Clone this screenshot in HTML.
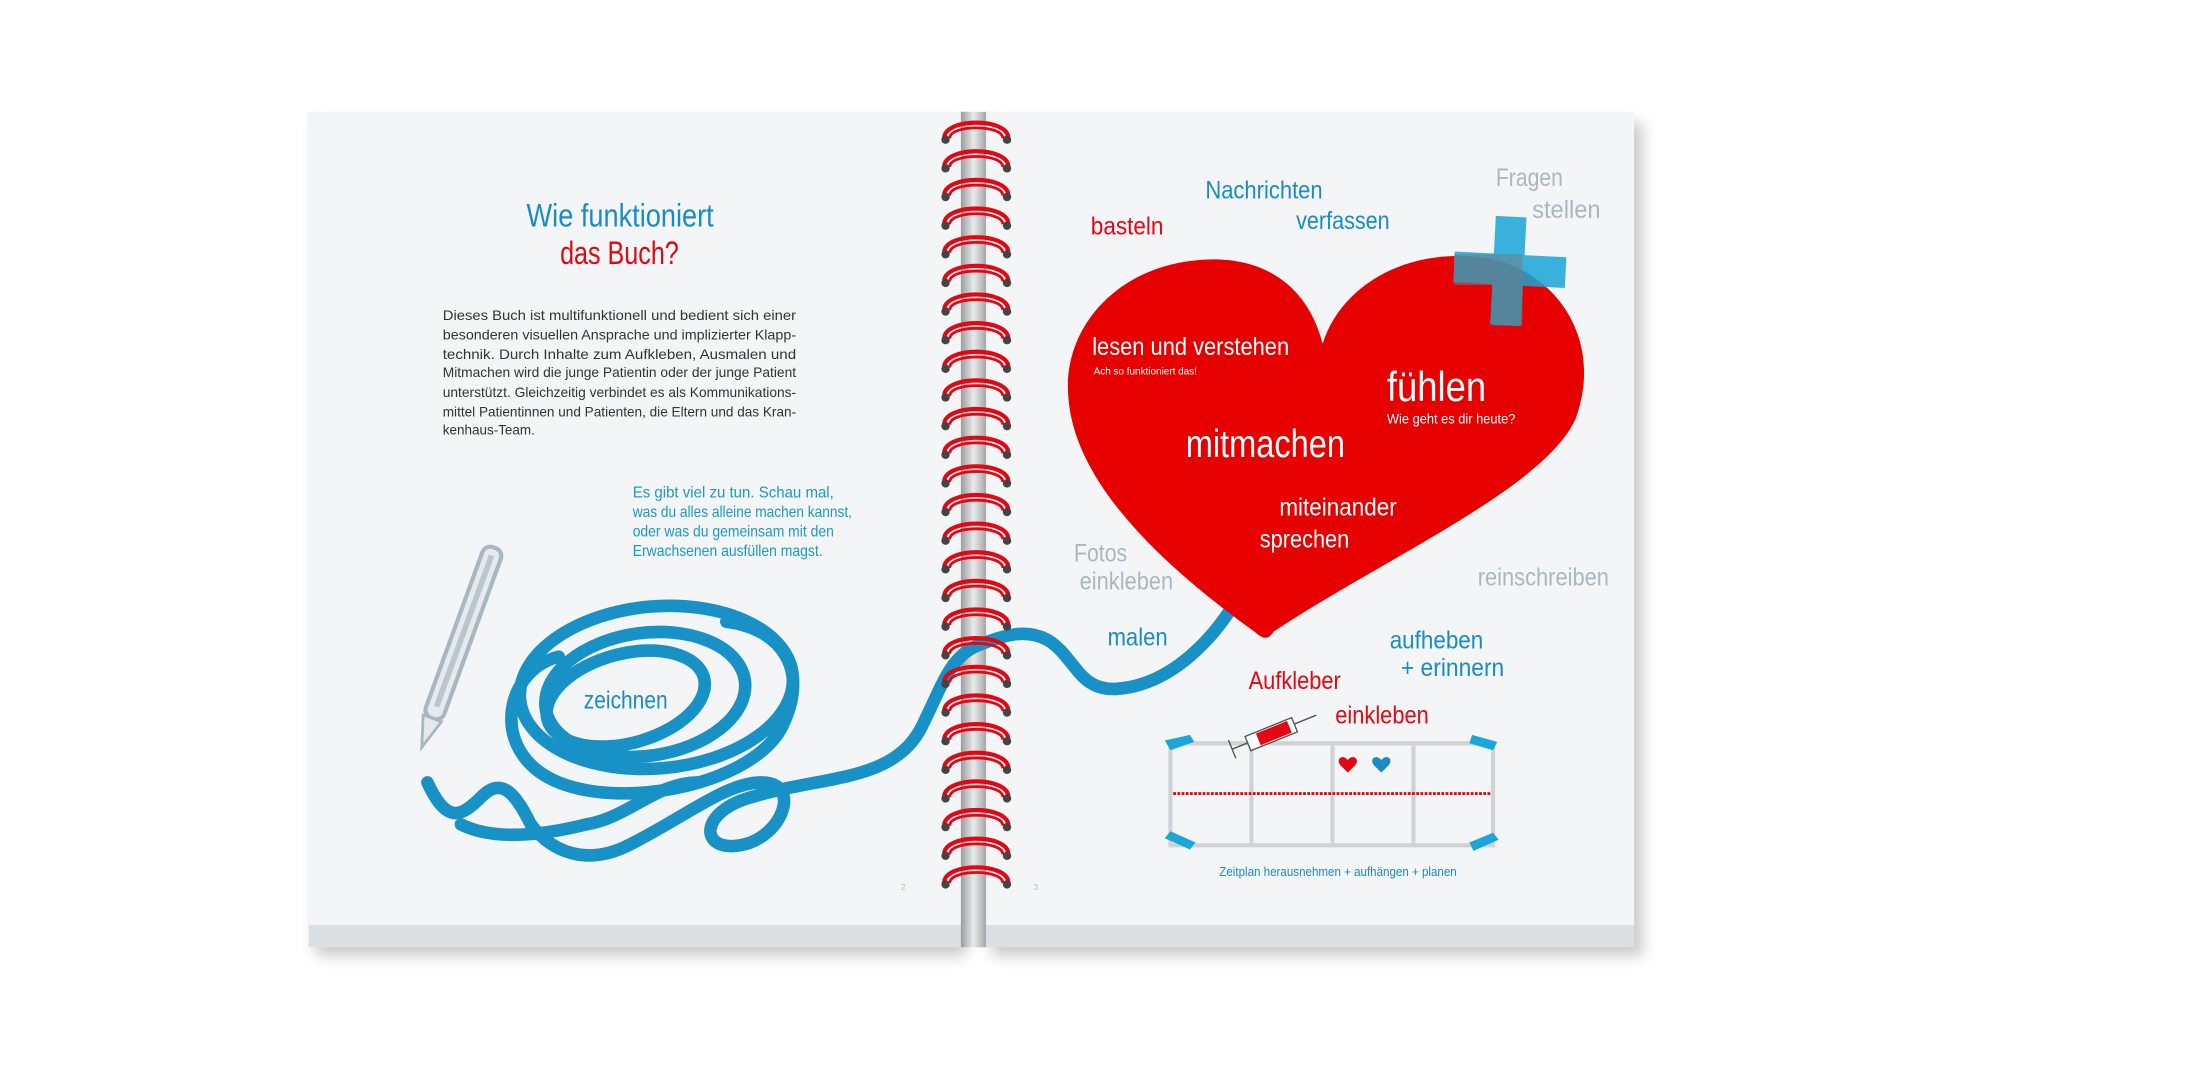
<!DOCTYPE html>
<html><head><meta charset="utf-8">
<style>
html,body{margin:0;padding:0;background:#fff;width:2190px;height:1080px;overflow:hidden}
svg{display:block}
text{font-family:"Liberation Sans",sans-serif}
</style></head><body>
<svg width="2190" height="1080" viewBox="0 0 1568 773" preserveAspectRatio="none" xmlns="http://www.w3.org/2000/svg">
<defs>
<linearGradient id="sp" x1="0" x2="1" y1="0" y2="0">
<stop offset="0" stop-color="#9a9c9e"/><stop offset="0.5" stop-color="#e8eaeb"/><stop offset="1" stop-color="#a4a6a8"/>
</linearGradient>
<filter id="sh" x="-10%" y="-10%" width="120%" height="130%"><feGaussianBlur stdDeviation="5"/></filter>
</defs>
<rect width="1568" height="773" fill="#fff"/>
<rect x="226" y="88" width="466" height="596" fill="#888" opacity="0.45" filter="url(#sh)"/>
<rect x="710" y="88" width="466" height="596" fill="#888" opacity="0.45" filter="url(#sh)"/>
<rect x="221" y="660" width="467" height="18" fill="#dcdfe1"/>
<rect x="706" y="660" width="464" height="18" fill="#dcdfe1"/>
<rect x="220" y="80" width="468" height="582" fill="#f3f5f6"/>
<rect x="706" y="80" width="464" height="582" fill="#f3f5f6"/>
<rect x="688" y="80" width="18" height="598" fill="url(#sp)"/>

<g lengthAdjust="spacingAndGlyphs">
<text x="377" y="162" font-size="23" fill="#1a8cc4" textLength="134" lengthAdjust="spacingAndGlyphs">Wie funktioniert</text>
<text x="401" y="189" font-size="23" fill="#e30613" textLength="85" lengthAdjust="spacingAndGlyphs">das Buch?</text>
</g>
<g font-size="9.6" fill="#333">
<text x="317" y="229" textLength="253" lengthAdjust="spacingAndGlyphs">Dieses Buch ist multifunktionell und bedient sich einer</text>
<text x="317" y="243" textLength="253" lengthAdjust="spacingAndGlyphs">besonderen visuellen Ansprache und implizierter Klapp-</text>
<text x="317" y="257" textLength="253" lengthAdjust="spacingAndGlyphs">technik. Durch Inhalte zum Aufkleben, Ausmalen und</text>
<text x="317" y="270" textLength="253" lengthAdjust="spacingAndGlyphs">Mitmachen wird die junge Patientin oder der junge Patient</text>
<text x="317" y="284" textLength="253" lengthAdjust="spacingAndGlyphs">unterstützt. Gleichzeitig verbindet es als Kommunikations-</text>
<text x="317" y="298" textLength="253" lengthAdjust="spacingAndGlyphs">mittel Patientinnen und Patienten, die Eltern und das Kran-</text>
<text x="317" y="311" textLength="66" lengthAdjust="spacingAndGlyphs">kenhaus-Team.</text>
</g>
<g font-size="11" fill="#1a9ac4">
<text x="453" y="356" textLength="144" lengthAdjust="spacingAndGlyphs">Es gibt viel zu tun. Schau mal,</text>
<text x="453" y="370" textLength="157" lengthAdjust="spacingAndGlyphs">was du alles alleine machen kannst,</text>
<text x="453" y="384" textLength="144" lengthAdjust="spacingAndGlyphs">oder was du gemeinsam mit den</text>
<text x="453" y="398" textLength="136" lengthAdjust="spacingAndGlyphs">Erwachsenen ausfüllen magst.</text>
</g>
<g transform="translate(354,392) rotate(20)">
<rect x="-7" y="0" width="14" height="130" rx="6" fill="#e6eaed" stroke="#a8b8c2" stroke-width="3"/>
<rect x="-2" y="6" width="4" height="115" fill="#b8c6ce"/>
<path d="M-7 130 L0 152 L7 130 Z" fill="#e6eaed" stroke="#a8b8c2" stroke-width="2"/>
</g>
<g fill="none" stroke="#1791c6" stroke-width="9" stroke-linecap="round">
<ellipse cx="462" cy="497" rx="72" ry="44" transform="rotate(-8 462 497)"/>
<ellipse cx="470" cy="492" rx="98" ry="58" transform="rotate(-5 470 492)"/>
<ellipse cx="448" cy="500" rx="58" ry="32" transform="rotate(-15 448 500)"/>
<path d="M400 470 C 360 480, 350 540, 400 560 C 450 580, 540 560, 560 520 C 580 480, 560 450, 520 445"/>
<path d="M306 560 C 320 590, 330 585, 345 570 C 360 555, 370 570, 380 590 C 395 610, 420 620, 450 605 C 490 585, 520 560, 545 560 C 575 560, 560 600, 530 605 C 500 610, 500 580, 540 570 C 590 555, 640 560, 660 520 C 675 490, 680 470, 700 462 C 720 454, 735 450, 750 458 C 770 470, 772 495, 800 493 C 840 490, 870 455, 885 430"/>
<path d="M330 590 C 350 600, 380 600, 420 590 C 450 585, 470 560, 500 560"/>
</g>
<text x="418" y="507" font-size="18" fill="#1a8cc4" textLength="60" lengthAdjust="spacingAndGlyphs">zeichnen</text>
<text x="645" y="637" font-size="6" fill="#bbb">2</text>
<text x="740" y="637" font-size="6" fill="#bbb">3</text>

<path d="M947 246 C 935 200, 900 183, 860 186 C 800 190, 760 235, 765 285 C 770 350, 840 410, 898 452 C 905 458, 908 458, 912 452 C 990 400, 1105 350, 1128 300 C 1150 240, 1110 190, 1060 184 C 1005 178, 960 205, 947 246 Z" fill="#e60000"/>
<g transform="rotate(3 1080 193)" opacity="0.85">
<rect x="1069" y="155" width="22" height="78" fill="#1aa6d8"/>
<rect x="1041" y="182" width="80" height="22" fill="#1aa6d8"/>
</g>
<path d="M1041 182 L1090 182 L1090 233 L1069 233 L1069 204 L1041 204 Z" fill="#6e7e88" opacity="0.55"/>

<text x="781" y="168" font-size="18" fill="#e30613" textLength="52" lengthAdjust="spacingAndGlyphs">basteln</text>
<text x="863" y="142" font-size="18" fill="#1a8cc4" textLength="84" lengthAdjust="spacingAndGlyphs">Nachrichten</text>
<text x="928" y="164" font-size="18" fill="#1a8cc4" textLength="67" lengthAdjust="spacingAndGlyphs">verfassen</text>
<text x="1071" y="133" font-size="18" fill="#a9b8c0" textLength="48" lengthAdjust="spacingAndGlyphs">Fragen</text>
<text x="1097" y="156" font-size="18" fill="#a9b8c0" textLength="49" lengthAdjust="spacingAndGlyphs">stellen</text>
<text x="782" y="254" font-size="18" fill="#fff" textLength="141" lengthAdjust="spacingAndGlyphs">lesen und verstehen</text>
<text x="783" y="268" font-size="7.5" fill="#fff" textLength="74" lengthAdjust="spacingAndGlyphs">Ach so funktioniert das!</text>
<text x="993" y="287" font-size="30" fill="#fff" textLength="71" lengthAdjust="spacingAndGlyphs">fühlen</text>
<text x="993" y="303" font-size="10" fill="#fff" textLength="92" lengthAdjust="spacingAndGlyphs">Wie geht es dir heute?</text>
<text x="849" y="327" font-size="28" fill="#fff" textLength="114" lengthAdjust="spacingAndGlyphs">mitmachen</text>
<text x="916" y="369" font-size="18" fill="#fff" textLength="84" lengthAdjust="spacingAndGlyphs">miteinander</text>
<text x="902" y="392" font-size="18" fill="#fff" textLength="64" lengthAdjust="spacingAndGlyphs">sprechen</text>
<text x="769" y="402" font-size="18" fill="#a9b8c0" textLength="38" lengthAdjust="spacingAndGlyphs">Fotos</text>
<text x="773" y="422" font-size="18" fill="#a9b8c0" textLength="67" lengthAdjust="spacingAndGlyphs">einkleben</text>
<text x="1058" y="419" font-size="18" fill="#a9b8c0" textLength="94" lengthAdjust="spacingAndGlyphs">reinschreiben</text>
<text x="793" y="462" font-size="18" fill="#1a8cc4" textLength="43" lengthAdjust="spacingAndGlyphs">malen</text>
<text x="995" y="464" font-size="18" fill="#1a8cc4" textLength="67" lengthAdjust="spacingAndGlyphs">aufheben</text>
<text x="1003" y="484" font-size="18" fill="#1a8cc4" textLength="74" lengthAdjust="spacingAndGlyphs">+ erinnern</text>
<text x="894" y="493" font-size="18" fill="#e30613" textLength="66" lengthAdjust="spacingAndGlyphs">Aufkleber</text>
<text x="956" y="518" font-size="18" fill="#e30613" textLength="67" lengthAdjust="spacingAndGlyphs">einkleben</text>

<g fill="none" stroke="#cfd3d6" stroke-width="3">
<rect x="838" y="532" width="231" height="73"/>
<line x1="896" y1="532" x2="896" y2="605"/>
<line x1="954" y1="532" x2="954" y2="605"/>
<line x1="1012" y1="532" x2="1012" y2="605"/>
</g>
<path d="M840 568 L1068 568" stroke="#e30613" stroke-width="2" stroke-dasharray="2 1"/>
<g fill="#1aa6d8">
<polygon points="834,530 852,526 855,531 838,537"/>
<polygon points="1054,526 1072,531 1069,537 1052,532"/>
<polygon points="834,600 838,595 856,603 852,608"/>
<polygon points="1052,603 1069,596 1073,601 1055,609"/>
</g>
<path d="M965 544 c-4-5-10 0-4 5 l4 4 4-4 c6-5 0-10-4-5z" fill="#e30613"/>
<path d="M989 544 c-4-5-10 0-4 5 l4 4 4-4 c6-5 0-10-4-5z" fill="#1a8cc4"/>
<g transform="rotate(-22 910 525)">
<rect x="892" y="520" width="36" height="11" fill="#fff" stroke="#555" stroke-width="1"/>
<rect x="900" y="521" width="24" height="9" fill="#e30613"/>
<line x1="928" y1="525" x2="945" y2="525" stroke="#555"/>
<line x1="880" y1="525" x2="892" y2="525" stroke="#555"/>
<line x1="880" y1="518" x2="880" y2="532" stroke="#555"/>
</g>
<text x="873" y="627" font-size="9" fill="#1a8cc4" textLength="170" lengthAdjust="spacingAndGlyphs">Zeitplan herausnehmen + aufhängen + planen</text>

<g id="rings">
<g fill="none" stroke="#e30613" stroke-width="3">
<path d="M676 99 C 676 84, 722 84, 722 99"/>
<path d="M680 99 C 680 89, 718 89, 718 99" stroke-width="2"/>
</g>
<circle cx="677" cy="100" r="3" fill="#444"/><circle cx="721" cy="100" r="3" fill="#444"/>
</g>
<use href="#rings" y="20.5"/><use href="#rings" y="41"/><use href="#rings" y="61.5"/><use href="#rings" y="82"/>
<use href="#rings" y="102.5"/><use href="#rings" y="123"/><use href="#rings" y="143.5"/><use href="#rings" y="164"/>
<use href="#rings" y="184.5"/><use href="#rings" y="205"/><use href="#rings" y="225.5"/><use href="#rings" y="246"/>
<use href="#rings" y="266.5"/><use href="#rings" y="287"/><use href="#rings" y="307.5"/><use href="#rings" y="328"/>
<use href="#rings" y="348.5"/><use href="#rings" y="369"/><use href="#rings" y="389.5"/><use href="#rings" y="410"/>
<use href="#rings" y="430.5"/><use href="#rings" y="451"/><use href="#rings" y="471.5"/><use href="#rings" y="492"/>
<use href="#rings" y="512.5"/><use href="#rings" y="533"/>
</svg>
</body></html>
